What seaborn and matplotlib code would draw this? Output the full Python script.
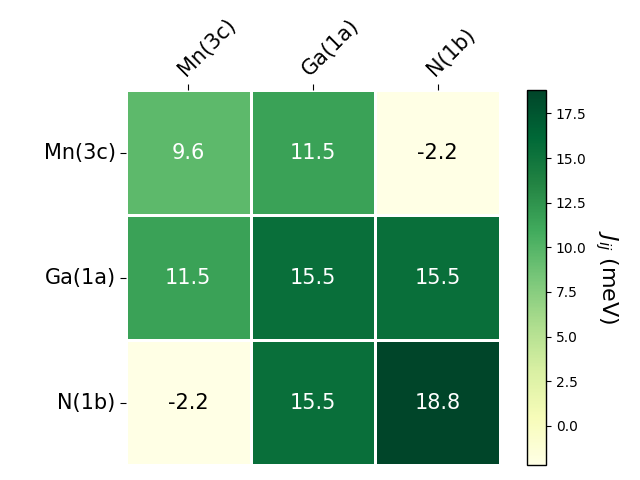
import numpy as np
import matplotlib
matplotlib.use("Agg")
import matplotlib.pyplot as plt
import seaborn as sns

# site labels and exchange couplings (meV)
sites = ["Mn(3c)", "Ga(1a)", "N(1b)"]
row_mn = [9.6, 11.5, -2.2]
row_ga = [11.5, 15.5, 15.5]
row_n = [-2.2, 15.5, 18.8]
J = np.array([row_mn, row_ga, row_n])

fig = plt.figure(figsize=(6.4, 4.8), dpi=100)
ax = fig.add_axes([0.197, 0.031, 0.584, 0.781])
cax = fig.add_axes([0.823, 0.031, 0.030, 0.781])

sns.heatmap(
    J, ax=ax, cbar_ax=cax, cmap="YlGn",
    vmin=J.min(), vmax=J.max(),
    linewidths=2, linecolor="white",
    annot=True, fmt=".1f", annot_kws={"fontsize": 15},
    xticklabels=sites, yticklabels=sites,
)

# pure black / white annotation text
for t in ax.texts:
    v = float(t.get_text())
    t.set_color("black" if v < 5 else "white")

ax.xaxis.tick_top()
ax.tick_params(axis="both", labelsize=15, length=4)
plt.setp(ax.get_xticklabels(), rotation=45, ha="left", rotation_mode="anchor")
plt.setp(ax.get_yticklabels(), rotation=0)

cbar = ax.collections[0].colorbar
cbar.outline.set_visible(True)
cbar.outline.set_edgecolor("black")
cbar.outline.set_linewidth(1)
cbar.ax.tick_params(labelsize=10)
cbar.set_label(r"$J_{ij}$ (meV)", rotation=270, fontsize=16, labelpad=24)

fig.savefig("out.png", dpi=100)
